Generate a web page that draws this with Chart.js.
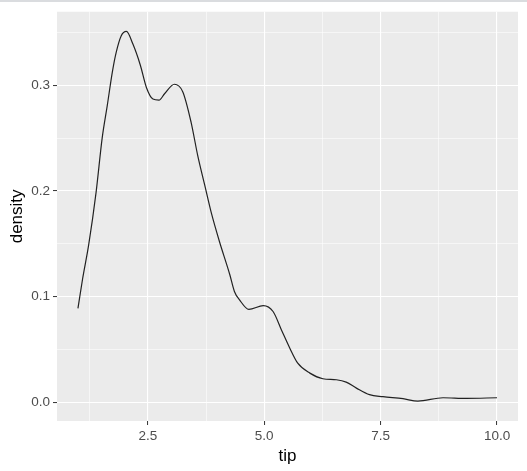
<!DOCTYPE html>
<html>
<head>
<meta charset="utf-8">
<script src="https://cdn.jsdelivr.net/npm/chart.js@4/dist/chart.umd.min.js"></script>
<style>
  html, body { margin: 0; padding: 0; background: #fff; }
  body { border-top: 2px solid #dadcdf; box-sizing: border-box; }
  #wrap { width: 527px; height: 469px; position: relative; }
</style>
</head>
<body>
<div id="wrap"><canvas id="densityChart"></canvas></div>
<script>
// density of tip
const tipX = [1.00, 1.10, 1.23, 1.39, 1.52, 1.63, 1.74, 1.82, 1.93, 2.04, 2.18, 2.34, 2.47, 2.61, 2.74, 2.86, 3.07, 3.25, 3.43, 3.57, 3.72, 3.86, 4.04, 4.26, 4.36, 4.47, 4.67, 4.98, 5.19, 5.37, 5.55, 5.72, 5.98, 6.26, 6.55, 6.76, 6.98, 7.26, 7.55, 7.98, 8.30, 8.84, 9.34, 10.00];
const densityY = [0.089, 0.117, 0.149, 0.199, 0.250, 0.281, 0.313, 0.331, 0.347, 0.351, 0.339, 0.319, 0.298, 0.287, 0.286, 0.292, 0.301, 0.294, 0.265, 0.234, 0.206, 0.180, 0.152, 0.121, 0.105, 0.097, 0.088, 0.0915, 0.086, 0.0686, 0.0513, 0.0371, 0.0277, 0.0224, 0.0214, 0.0192, 0.0135, 0.0073, 0.0054, 0.0035, 0.0012, 0.0044, 0.0038, 0.0044];

const xTicks = [1.25, 2.5, 3.75, 5.0, 6.25, 7.5, 8.75, 10.0];
const xMajor = [2.5, 5.0, 7.5, 10.0];
const yTicks = [0, 0.05, 0.1, 0.15, 0.2, 0.25, 0.3, 0.35];
const yMajor = [0, 0.1, 0.2, 0.3];

const isMajor = (list, v) => list.some(m => Math.abs(m - v) < 1e-9);

const panelBg = {
    id: 'panelBg',
    beforeDraw(chart) {
        const { ctx, chartArea: a } = chart;
        ctx.save();
        ctx.fillStyle = '#EBEBEB';
        ctx.fillRect(a.left, a.top, a.right - a.left, a.bottom - a.top);
        ctx.restore();
    }
};

const ctx = document.getElementById('densityChart').getContext('2d');
new Chart(ctx, {
    type: 'line',
    data: {
        datasets: [{
            data: tipX.map((x, i) => ({ x: x, y: densityY[i] })),
            borderColor: '#222',
            borderWidth: 1.2,
            pointRadius: 0,
            fill: false,
            cubicInterpolationMode: 'monotone'
        }]
    },
    options: {
        responsive: true,
        maintainAspectRatio: false,
        animation: false,
        layout: { padding: { top: 1, right: 9, left: 7, bottom: 4 } },
        plugins: { legend: { display: false }, tooltip: { enabled: false } },
        scales: {
            x: {
                type: 'linear',
                min: 0.55,
                max: 10.45,
                afterBuildTicks: s => { s.ticks = xTicks.map(v => ({ value: v })); },
                afterFit: s => { s.height = 46; },
                border: { display: false },
                grid: {
                    color: '#FFFFFF',
                    lineWidth: c => isMajor(xMajor, c.tick.value) ? 1.1 : 0.55,
                    tickColor: c => isMajor(xMajor, c.tick.value) ? '#333333' : 'rgba(0,0,0,0)',
                    tickLength: 4,
                    tickWidth: 1
                },
                ticks: {
                    color: '#4D4D4D',
                    font: { family: 'Liberation Sans', size: 13.5 },
                    padding: 3,
                    maxRotation: 0,
                    autoSkip: false,
                    callback: v => isMajor(xMajor, v) ? v.toFixed(1) : ''
                },
                title: {
                    display: true,
                    text: 'tip',
                    color: '#000',
                    font: { family: 'Liberation Sans', size: 17 },
                    padding: { top: 1, bottom: 0 }
                }
            },
            y: {
                type: 'linear',
                min: -0.0176,
                max: 0.3696,
                afterBuildTicks: s => { s.ticks = yTicks.map(v => ({ value: v })); },
                afterFit: s => { s.width = 50; },
                border: { display: false },
                grid: {
                    color: '#FFFFFF',
                    lineWidth: c => isMajor(yMajor, c.tick.value) ? 1.1 : 0.55,
                    tickColor: c => isMajor(yMajor, c.tick.value) ? '#333333' : 'rgba(0,0,0,0)',
                    tickLength: 4,
                    tickWidth: 1
                },
                ticks: {
                    color: '#4D4D4D',
                    font: { family: 'Liberation Sans', size: 13.5, lineHeight: 1 },
                    padding: 3,
                    autoSkip: false,
                    callback: v => isMajor(yMajor, v) ? v.toFixed(1) : ''
                },
                title: {
                    display: true,
                    text: 'density',
                    color: '#000',
                    font: { family: 'Liberation Sans', size: 17 },
                    padding: { top: 0, bottom: 1 }
                }
            }
        }
    },
    plugins: [panelBg]
});
</script>
</body>
</html>
